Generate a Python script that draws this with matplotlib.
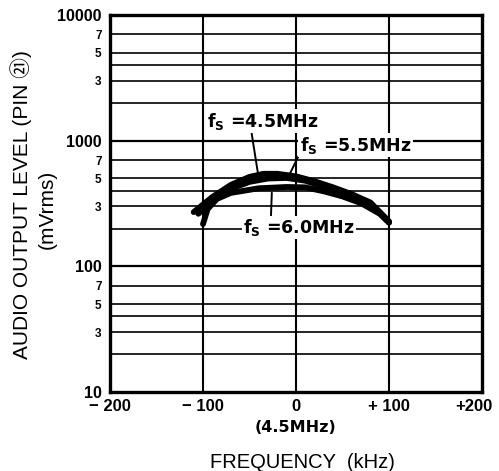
import matplotlib
matplotlib.use('Agg')
import matplotlib.pyplot as plt
from matplotlib.transforms import offset_copy

plt.rcParams['font.family'] = ['Liberation Sans', 'Noto Sans CJK JP', 'DejaVu Sans']
plt.rcParams['mathtext.fontset'] = 'custom'
plt.rcParams['mathtext.rm'] = 'DejaVu Sans:bold'
plt.rcParams['mathtext.it'] = 'DejaVu Sans:bold'

# Audio output vs. detuning, one curve per sound carrier frequency
freq_45 = [-110, -90, -70, -50, -35, -20, 0, 20, 40, 60, 80, 100]
level_45 = [270, 356, 445, 515, 545, 545, 520, 475, 425, 375, 322, 228]

freq_55 = [-105, -90, -70, -50, -30, -10, 10, 30, 50, 70, 90, 100]
level_55 = [262, 335, 415, 470, 500, 505, 480, 430, 378, 325, 268, 225]

freq_60 = [-100, -95, -85, -70, -40, -10, 10, 30, 50, 70, 90, 100]
level_60 = [217, 286, 344, 384, 418, 428, 425, 395, 360, 318, 262, 222]

x_ticks = [-200, -100, 0, 100, 200]
x_labels = ['\u2212 200', '\u2212 100', '0', '+ 100', '+200']
y_major = [10, 100, 1000, 10000]
y_minor_grid = [m * d for d in (10, 100, 1000) for m in (2, 3, 4, 5, 7)]
y_minor_labeled = [m * d for d in (10, 100, 1000) for m in (3, 5, 7)]

fig = plt.figure(figsize=(4.99, 4.71), dpi=100)
ax = fig.add_axes([110 / 499, 79 / 471, 372 / 499, 377 / 471])
ax.set_xlim(-200, 200)
ax.set_yscale('log')
ax.set_ylim(10, 10000)

# grid
for v in y_major[1:-1]:
    ax.axhline(v, color='black', lw=1.6, zorder=1)
for v in y_minor_grid:
    ax.axhline(v, color='black', lw=1.2, zorder=1)
for v in x_ticks[1:-1]:
    ax.axvline(v, color='black', lw=1.5, zorder=1)

for s in ax.spines.values():
    s.set_linewidth(2.4)

# curves
for fx, lv in ((freq_45, level_45), (freq_55, level_55), (freq_60, level_60)):
    ax.plot(fx, lv, color='black', lw=4.2, solid_capstyle='round', zorder=3)

# ticks
ax.set_xticks(x_ticks)
ax.set_xticklabels(x_labels, fontsize=12, fontweight='bold')
ax.set_yticks(y_major)
ax.set_yticklabels([str(v) for v in y_major], fontsize=11.5, fontweight='bold')
ax.set_yticks(y_minor_labeled, minor=True)
ax.set_yticklabels([str(v)[0] for v in y_minor_labeled], minor=True,
                   fontsize=8.5, fontweight='bold')
ax.tick_params(axis='both', which='both', length=0)
ax.tick_params(axis='y', which='both', pad=6)
ax.tick_params(axis='x', pad=5)

# keep the last x label inside the figure
last = ax.get_xticklabels()[-1]
last.set_transform(offset_copy(last.get_transform(), fig=fig, x=-8, y=0, units='dots'))

fig.text(296 / 499, 1 - 427 / 471, '(4.5MHz)', ha='center', va='center',
         fontsize=11.5, fontweight='bold', family='DejaVu Sans')
fig.text(302 / 499, 1 - 463 / 471, 'FREQUENCY  (kHz)', ha='center', va='center',
         fontsize=14.5)
fig.text(21 / 499, 1 - 205 / 471, 'AUDIO OUTPUT LEVEL (PIN \u3251)', rotation=90,
         ha='center', va='center', fontsize=15)
fig.text(47 / 499, 1 - 209 / 471, '(mVrms)', rotation=90,
         ha='center', va='center', fontsize=15)

# carrier labels with leaders
box = dict(facecolor='white', edgecolor='none', pad=1.0)
lbl = dict(ha='center', va='center', fontsize=12.5, fontweight='bold',
           family='DejaVu Sans', bbox=box, zorder=5)
ax.annotate(r'f$_\mathrm{S}$ =4.5MHz', xy=(-41, 555), xytext=(-36, 1430),
            arrowprops=dict(arrowstyle='-', color='black', lw=1.4,
                            shrinkA=0, shrinkB=0, relpos=(0.4, 0.0)), **lbl)
ax.annotate(r'f$_\mathrm{S}$ =5.5MHz', xy=(-8, 520), xytext=(64, 920),
            arrowprops=dict(arrowstyle='-', color='black', lw=1.4,
                            shrinkA=0, shrinkB=0, relpos=(0.0, 0.1)), **lbl)
ax.annotate(r'f$_\mathrm{S}$ =6.0MHz', xy=(-26, 385), xytext=(3, 204),
            arrowprops=dict(arrowstyle='-', color='black', lw=1.4,
                            shrinkA=0, shrinkB=0, relpos=(0.25, 1.0)), **lbl)

fig.savefig('out.png', dpi=100)
